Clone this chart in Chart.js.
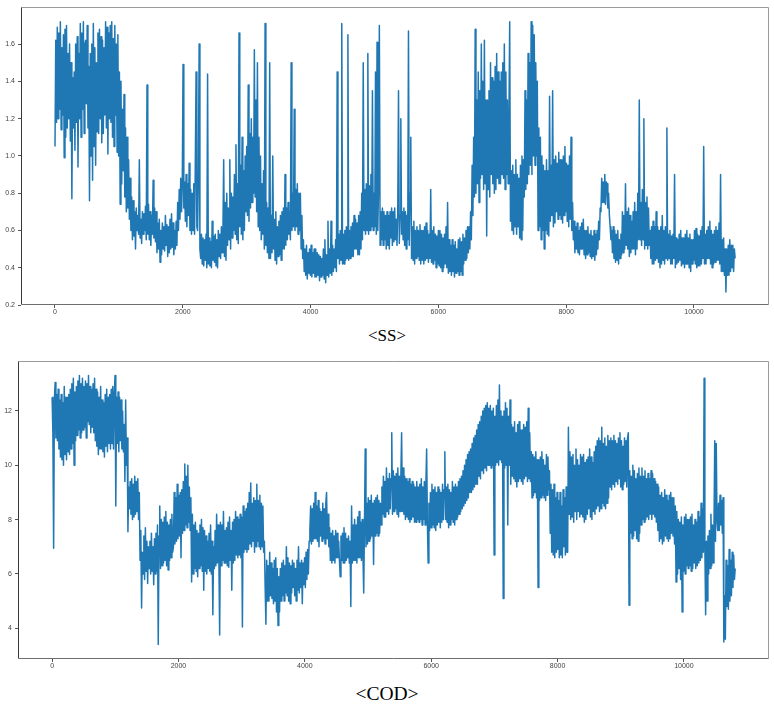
<!DOCTYPE html>
<html>
<head>
<meta charset="utf-8">
<script src="https://cdn.jsdelivr.net/npm/chart.js@4.4.0/dist/chart.umd.min.js"></script>
<style>
    body { margin: 0; background: #fff; }
    #wrap { position: relative; width: 774px; height: 704px; overflow: hidden; }
    .box { position: absolute; left: 0; width: 774px; height: 320px; }
    .ttl {
        position: absolute; left: 0; width: 774px; text-align: center;
        font-family: "Liberation Serif", "Times New Roman", serif; color: #000; line-height: 1;
    }
</style>
</head>
<body>
<div id="wrap">
    <div class="box" style="top:0"><canvas id="ssChart" width="774" height="320"></canvas></div>
    <div class="ttl" style="top:327px; font-size:17px">&lt;SS&gt;</div>
    <div class="box" style="top:354px"><canvas id="codChart" width="774" height="320"></canvas></div>
    <div class="ttl" style="top:684px; font-size:19.5px">&lt;COD&gt;</div>
</div>
<script>
// one value every 12 samples (each row = 240 samples)
const SAMPLE_STEP = 12;

const ssValues = [
    1.05,1.62,1.18,1.69,1.2,1.66,1.25,1.72,1.14,1.58,1.22,1.65,0.99,1.68,1.1,1.7,1.15,1.55,1.2,1.6,
    1.08,1.5,0.77,1.42,1.15,1.45,1.03,1.6,1.18,1.64,0.94,1.55,1.2,1.71,1.1,1.66,1.25,1.72,1.12,1.6,
    1.62,1.28,1.7,1.15,1.48,0.76,1.55,1.0,1.6,0.87,1.71,1.05,1.58,0.95,1.5,1.13,1.66,1.12,1.68,1.2,
    1.64,1.07,1.62,1.12,1.58,1.22,1.72,1.15,1.69,1.01,1.66,1.2,1.7,1.18,1.72,1.1,1.63,1.05,1.7,1.22,
    1.6,1.02,1.65,1.0,1.45,0.74,1.4,0.85,1.25,0.92,1.33,0.78,1.15,0.7,1.1,0.72,0.98,0.66,0.88,0.6,
    0.78,0.55,0.76,0.57,0.7,0.5,0.72,0.6,0.68,0.58,0.98,0.56,0.66,0.53,0.7,0.58,0.69,0.6,0.73,0.55,
    1.38,0.58,0.74,0.55,0.7,0.52,0.68,0.58,0.87,0.56,0.72,0.54,0.7,0.48,0.64,0.5,0.66,0.43,0.6,0.47,
    0.64,0.5,0.62,0.49,0.68,0.52,0.63,0.46,0.62,0.48,0.66,0.5,0.69,0.51,0.64,0.47,0.6,0.5,0.65,0.52,
    0.75,0.6,0.82,0.66,0.88,0.7,0.84,1.49,0.72,0.86,0.65,0.9,0.62,0.85,0.68,0.96,0.6,0.82,0.58,0.8,
    0.6,0.85,0.58,0.95,1.45,0.62,0.6,0.9,1.6,0.5,0.45,0.58,0.42,0.56,0.41,0.55,0.44,0.58,0.4,1.44,
    0.42,0.56,0.41,0.54,0.4,0.65,0.44,0.57,0.43,0.58,0.41,0.55,0.4,0.6,0.46,0.58,0.45,0.62,0.48,0.6,
    0.98,0.46,0.75,0.44,0.8,0.52,0.72,0.55,0.98,0.5,0.8,0.56,0.78,0.6,0.9,0.58,1.06,0.55,0.85,0.53,
    1.66,0.62,0.95,0.58,1.1,0.55,0.92,0.6,1.0,0.7,1.05,0.68,1.38,0.65,1.12,0.72,1.2,0.75,1.1,0.8,
    1.57,0.78,1.3,0.7,1.5,0.62,1.1,0.6,1.0,0.55,0.85,0.58,0.92,0.5,1.71,0.52,0.75,0.48,0.72,0.45,
    1.5,0.45,0.68,0.48,1.0,0.5,0.66,0.44,0.7,0.42,0.62,0.46,0.65,0.47,0.68,0.44,0.7,0.5,0.72,0.5,
    0.9,0.52,0.72,0.55,0.75,0.58,0.7,0.55,1.5,0.6,0.8,0.62,1.25,0.6,0.82,0.62,0.85,0.58,0.8,0.6,
    0.8,0.5,0.68,0.45,0.55,0.38,0.5,0.36,0.52,0.34,0.48,0.37,0.5,0.36,0.52,0.35,0.48,0.37,0.5,0.35,
    0.5,0.35,0.48,0.36,0.47,0.33,0.46,0.35,0.45,0.36,0.5,0.34,0.55,0.32,0.47,0.36,0.65,0.35,0.5,0.37,
    0.65,0.36,0.52,0.38,0.5,0.4,0.55,0.38,1.45,0.45,0.58,0.42,0.6,0.44,1.71,0.42,0.58,0.42,0.6,0.44,
    0.62,0.45,1.65,0.44,0.6,0.45,0.62,0.46,0.64,0.46,0.68,0.5,0.66,0.5,0.64,0.47,0.68,0.47,0.7,0.5,
    0.8,0.55,1.5,0.6,0.82,0.58,0.85,0.6,1.55,0.58,0.84,0.6,0.9,0.62,1.35,0.6,0.8,0.62,1.45,0.58,
    1.61,0.6,0.85,1.7,0.52,0.7,0.55,0.72,0.52,0.7,0.55,0.68,0.5,0.7,0.52,0.68,0.5,0.7,0.56,0.72,
    0.52,0.7,0.54,0.72,0.55,0.66,0.52,0.7,1.35,0.53,0.68,1.2,0.58,0.7,0.55,0.72,0.52,0.7,0.5,0.68,
    0.55,1.67,0.52,0.8,1.1,0.45,0.62,0.44,0.65,0.42,0.6,0.45,0.62,0.46,0.6,0.44,0.63,0.42,0.6,0.44,
    0.6,0.42,0.62,0.44,0.64,0.45,0.6,0.43,0.58,0.45,0.82,0.43,0.6,0.42,0.62,0.44,0.58,0.4,0.57,0.42,
    0.6,0.41,0.6,0.4,0.58,0.38,0.56,0.4,0.58,0.42,0.62,0.4,0.75,0.37,0.55,0.38,0.52,0.36,0.55,0.38,
    0.52,0.35,0.54,0.37,0.5,0.38,0.55,0.36,0.56,0.38,0.54,0.36,0.58,0.42,0.56,0.44,0.6,0.45,0.62,0.48,
    0.62,0.5,0.7,0.55,0.95,0.68,1.1,0.78,1.68,0.8,1.3,0.85,1.45,0.75,1.35,0.88,1.6,0.9,1.4,0.82,
    1.62,0.85,1.3,0.57,1.3,0.82,1.35,0.78,1.5,0.9,1.42,0.85,1.4,0.8,1.48,0.82,1.55,0.88,1.45,0.85,
    1.4,0.85,1.45,0.9,1.5,0.88,1.6,0.82,1.45,0.9,1.3,0.85,1.2,1.72,0.65,0.92,0.6,0.95,0.58,0.9,
    0.62,0.98,0.58,0.9,0.62,0.88,0.56,0.95,0.55,1.0,0.6,0.98,0.78,1.35,0.82,1.3,0.85,1.55,0.9,1.5,
    0.95,1.72,0.9,1.7,1.0,1.65,0.95,1.5,1.0,1.4,0.6,1.15,0.62,1.1,0.55,1.0,0.6,0.95,0.5,0.92,
    0.6,0.98,0.58,0.92,0.57,1.32,0.65,0.95,0.68,1.35,0.62,0.98,0.64,1.0,0.7,0.96,0.66,1.02,0.68,0.98,
    0.66,0.98,0.64,1.0,0.68,1.05,0.7,0.96,0.65,0.95,0.62,1.0,0.66,1.1,0.6,0.75,0.55,0.65,0.48,0.62,
    0.5,0.64,0.48,0.6,0.47,0.62,0.5,0.64,0.5,0.66,0.47,0.6,0.45,0.6,0.47,0.62,0.48,0.58,0.46,0.6,
    0.45,0.57,0.46,0.6,0.44,0.58,0.47,0.6,0.5,0.65,0.55,0.72,0.7,0.88,0.75,0.86,0.75,0.9,0.74,0.86,
    0.85,0.72,0.8,0.68,0.62,0.55,0.6,0.48,0.62,0.45,0.6,0.43,0.58,0.44,0.6,0.42,0.55,0.45,0.58,0.47,
    0.7,0.48,0.68,0.5,0.85,0.52,0.7,0.5,0.72,0.46,0.68,0.48,0.65,0.5,0.7,0.5,0.75,0.47,0.7,0.5,
    0.8,0.55,1.3,0.55,0.75,0.52,0.82,0.55,1.2,0.5,0.75,0.52,0.78,0.5,0.72,0.52,0.6,0.45,0.62,0.42,
    0.65,0.42,0.62,0.44,0.7,0.45,0.62,0.43,0.6,0.4,0.62,0.42,0.68,0.44,0.6,0.42,0.62,0.45,1.15,0.44,
    0.58,0.45,0.6,0.42,0.57,0.42,0.58,0.45,0.9,0.4,0.56,0.42,0.55,0.43,0.58,0.44,0.6,0.41,0.56,0.42,
    0.56,0.4,0.58,0.42,0.6,0.42,0.56,0.4,0.58,0.38,0.55,0.42,0.55,0.44,0.6,0.42,0.61,0.4,0.58,0.41,
    0.57,0.41,0.6,0.42,0.62,0.45,1.05,0.42,0.58,0.42,0.6,0.45,0.62,0.45,0.65,0.42,0.6,0.4,0.58,0.42,
    0.6,0.43,0.62,0.44,0.6,0.44,0.64,0.42,0.9,0.38,0.55,0.38,0.56,0.36,0.5,0.27,0.5,0.36,0.52,0.36,
    0.55,0.38,0.52,0.4,0.52,0.38,0.5,0.45,
];

const codValues = [
    12.5,11.2,6.95,12.4,13.05,11.0,12.6,10.9,12.8,10.6,12.4,10.3,12.6,10.2,12.3,10.0,12.9,10.4,12.5,10.2,
    12.5,10.5,12.6,10.4,12.8,10.6,13.0,10.8,13.2,10.0,12.7,10.9,12.9,11.1,13.1,11.3,13.3,11.0,13.0,11.2,
    13.2,11.3,12.9,11.4,13.1,11.0,13.0,11.6,13.3,11.5,12.9,11.2,12.8,11.4,13.0,11.2,13.2,10.9,12.8,10.7,
    12.7,10.4,12.5,10.6,12.9,10.6,12.4,10.5,12.3,10.3,12.6,10.7,12.8,10.5,12.5,10.8,12.6,10.6,12.8,10.8,
    12.9,10.6,12.6,13.3,8.5,12.5,10.8,12.7,10.5,12.5,10.9,12.4,10.6,12.0,10.5,11.5,9.4,12.4,10.0,11.0,
    7.55,9.2,8.4,9.4,8.2,9.5,8.0,9.3,8.1,9.6,8.2,9.4,8.3,9.5,8.0,9.0,6.5,7.6,4.75,6.8,
    6.0,7.4,5.8,7.7,6.1,7.2,5.65,7.0,6.2,7.2,6.0,7.5,6.1,7.0,5.6,7.3,6.0,7.5,6.1,7.8,
    3.4,7.4,8.5,6.2,8.0,6.3,7.9,6.4,8.1,6.5,8.3,6.3,7.9,6.15,7.8,6.5,8.0,6.6,8.2,6.8,
    7.0,9.0,7.1,8.8,7.2,9.3,7.3,8.9,7.4,9.0,6.6,9.1,7.5,9.4,7.6,10.05,7.8,9.6,7.7,10.0,
    7.9,9.2,7.6,8.8,5.7,8.2,6.0,7.8,6.2,7.9,6.1,7.6,5.9,7.5,6.2,7.8,6.3,8.0,6.1,7.7,
    5.4,7.6,6.1,7.4,6.0,7.2,6.2,7.5,6.1,7.8,6.0,7.2,4.5,7.0,6.2,7.6,6.3,8.2,6.4,7.8,
    6.5,3.75,7.9,6.3,7.8,6.5,8.3,6.4,7.6,6.4,7.7,6.3,7.9,6.25,8.1,6.5,7.6,5.4,7.9,6.4,
    8.0,6.5,8.3,6.7,8.1,6.6,8.0,6.7,8.2,6.6,8.1,4.05,8.5,6.8,8.3,6.9,8.4,6.8,8.6,6.9,
    9.0,7.1,9.35,7.0,8.6,7.2,8.8,6.8,8.7,7.0,9.3,7.2,8.7,7.0,8.9,6.9,8.6,7.0,8.5,6.8,
    7.2,5.5,4.15,6.5,5.0,6.3,5.0,6.8,5.2,6.4,5.1,6.2,4.9,6.5,5.0,6.6,4.6,6.2,4.1,5.9,
    4.6,6.2,5.0,6.4,5.2,6.5,5.0,6.3,5.3,7.0,5.2,6.6,5.0,6.4,4.9,6.3,5.3,6.5,5.5,6.4,
    5.2,6.2,5.0,6.5,5.4,7.0,5.3,6.4,5.5,6.5,4.9,6.4,5.6,6.6,5.5,6.8,5.8,6.9,6.0,7.2,
    7.6,8.5,7.1,8.4,7.2,8.6,7.3,9.0,7.3,8.5,7.2,8.7,7.0,8.4,7.4,8.3,7.2,8.6,7.3,8.4,
    7.1,8.6,9.0,7.3,8.2,7.0,7.7,6.5,7.5,6.4,7.6,6.5,7.4,6.4,7.6,6.6,7.5,6.6,7.2,6.5,
    5.9,7.4,6.5,7.5,6.4,7.7,6.4,7.5,6.5,7.3,6.6,7.4,6.4,7.2,4.8,8.5,6.4,7.8,6.5,8.0,
    6.5,7.8,6.4,8.1,6.6,8.3,6.6,7.9,6.5,8.0,6.7,5.3,7.8,10.6,7.0,8.6,7.1,8.8,7.2,8.7,
    7.3,8.9,7.4,8.6,6.35,8.7,7.4,8.8,7.5,8.9,7.4,8.7,7.5,8.6,7.8,9.2,8.2,9.6,8.1,9.4,
    8.1,9.9,8.3,9.5,8.2,9.7,8.4,9.5,11.2,8.2,9.8,8.3,9.6,8.4,9.7,8.2,9.9,8.1,9.6,8.3,
    9.6,11.2,8.3,9.9,8.2,9.6,8.0,9.5,8.1,9.4,8.0,9.5,7.9,9.3,8.0,9.4,8.1,9.3,7.9,9.2,
    7.9,9.4,8.0,9.2,7.9,9.3,8.0,9.5,7.8,9.2,8.0,9.4,7.8,9.3,10.6,7.9,6.4,8.6,7.6,9.0,
    7.7,9.3,7.8,9.1,7.7,9.2,7.6,9.0,7.8,9.2,7.9,9.1,7.7,9.0,7.9,9.3,8.0,9.1,10.5,8.0,
    9.2,7.9,9.3,7.7,9.1,7.8,9.0,8.0,9.4,7.9,9.2,7.8,9.3,8.0,9.2,8.1,9.4,8.2,9.5,8.3,
    9.6,8.4,9.8,8.5,10.0,8.6,10.2,8.7,10.4,8.8,10.5,9.0,10.6,9.0,10.8,9.1,11.0,9.2,11.1,9.3,
    11.3,9.3,11.5,9.6,11.6,9.5,11.8,9.8,12.0,9.7,12.1,9.9,12.2,9.8,12.3,10.0,12.1,10.0,12.2,9.9,
    12.0,10.0,12.1,6.7,11.8,10.0,12.2,10.1,12.4,10.0,12.95,10.2,12.0,10.1,11.8,5.1,12.0,9.9,12.3,10.0,
    12.1,7.8,11.8,10.0,12.4,9.3,11.5,9.6,11.4,9.5,11.6,9.4,11.2,9.2,11.5,9.4,11.6,9.5,11.3,9.4,
    11.3,9.3,11.5,9.5,11.4,9.6,11.6,9.4,12.1,9.5,11.2,9.4,10.5,8.8,10.4,8.9,10.3,9.0,10.5,8.8,
    10.2,5.5,10.2,8.7,10.3,8.8,10.5,8.9,10.2,8.8,10.0,8.7,10.4,8.9,10.3,9.1,9.8,7.5,9.3,6.8,
    9.1,6.7,9.3,6.6,8.8,6.8,9.0,6.9,8.7,6.6,9.0,6.7,8.5,6.6,9.1,7.0,8.8,6.7,9.2,6.8,
    6.8,11.4,8.2,10.5,8.0,10.3,8.1,10.4,7.9,10.0,8.3,10.6,8.0,10.2,8.3,10.0,8.1,10.4,8.2,10.3,
    8.1,10.4,7.9,10.1,8.0,10.2,8.2,10.3,8.4,10.6,8.1,10.3,8.0,10.1,8.3,10.5,8.2,10.7,8.4,10.9,
    8.5,11.0,8.3,10.9,8.4,11.4,8.6,10.8,8.5,11.0,8.4,10.7,8.6,11.1,8.8,10.9,9.2,11.0,9.1,10.9,
    9.3,11.1,9.2,10.9,9.4,10.8,9.3,11.0,9.5,11.2,9.2,10.9,9.1,10.7,9.3,11.0,9.4,10.9,9.2,11.0,
    11.2,4.85,9.8,7.5,9.6,7.3,10.0,7.4,9.8,7.6,9.5,7.3,9.7,7.2,9.9,7.5,9.6,7.8,9.9,8.0,
    9.6,7.9,9.8,8.0,9.5,8.1,9.7,8.0,9.5,8.2,9.8,8.0,9.7,8.2,9.5,8.1,9.4,7.9,9.3,7.6,
    9.2,7.2,8.9,7.3,9.0,7.1,8.8,7.2,9.1,7.4,8.9,7.3,8.7,7.2,8.9,7.3,9.0,7.5,8.8,7.4,
    8.8,7.1,8.5,5.7,8.3,6.0,8.0,6.2,7.9,5.8,8.1,4.6,7.8,6.1,8.1,6.0,8.2,6.3,8.0,6.2,
    8.0,6.3,8.1,6.1,8.2,6.2,7.8,6.4,8.0,6.2,7.9,6.3,8.3,6.4,8.1,6.5,8.6,6.6,8.4,6.8,
    13.2,7.0,4.5,7.2,5.0,7.4,6.0,7.6,6.2,8.2,6.3,7.8,6.4,7.6,10.9,7.2,10.8,8.0,7.6,8.6,
    7.6,8.9,7.8,8.7,7.5,8.8,3.5,5.2,3.6,6.5,4.8,6.3,4.7,6.9,5.0,6.5,5.2,6.8,5.5,6.7,
    5.8,6.2,
];

const xTicks = [0, 2000, 4000, 6000, 8000, 10000];
const xTickLabels = ["0", "2000", "4000", "6000", "8000", "10000"];
const ssYTicks = [0.2, 0.4, 0.6, 0.8, 1.0, 1.2, 1.4, 1.6];
const ssYTickLabels = ["0.2", "0.4", "0.6", "0.8", "1.0", "1.2", "1.4", "1.6"];
const codYTicks = [4, 6, 8, 10, 12];
const codYTickLabels = ["4", "6", "8", "10", "12"];

const LINE_COLOR = "#1f77b4";
const TICK_FONT = { family: "'Liberation Sans', Arial, sans-serif", size: 7 };

// axes frame like matplotlib: darker left/bottom spines, lighter top/right
const framePlugin = {
    id: "frame",
    afterDraw(chart) {
        const { ctx, chartArea: a } = chart;
        const l = Math.round(a.left) + 0.5, r = Math.round(a.right) - 0.5;
        const t = Math.round(a.top) + 0.5, b = Math.round(a.bottom) - 0.5;
        ctx.save();
        ctx.lineWidth = 1;
        ctx.strokeStyle = "#9a9a9a";
        ctx.beginPath();
        ctx.moveTo(l, t); ctx.lineTo(r, t); ctx.lineTo(r, b);
        ctx.stroke();
        ctx.strokeStyle = "#3a3a3a";
        ctx.beginPath();
        ctx.moveTo(l, t); ctx.lineTo(l, b);
        ctx.stroke();
        ctx.strokeStyle = "#6e6e6e";
        ctx.beginPath();
        ctx.moveTo(l, b); ctx.lineTo(r, b);
        ctx.stroke();
        ctx.restore();
    },
};

function makeChart(canvasId, values, opts) {
    const points = values.map((v, i) => ({ x: i * SAMPLE_STEP, y: v }));
    return new Chart(document.getElementById(canvasId), {
        type: "line",
        data: {
            datasets: [{
                data: points,
                borderColor: LINE_COLOR,
                borderWidth: 1.5,
                borderJoinStyle: "round",
                pointRadius: 0,
                tension: 0,
                fill: false,
            }],
        },
        options: {
            responsive: false,
            animation: false,
            events: [],
            layout: { padding: { top: opts.padTop, right: opts.padRight, left: 0, bottom: 0 } },
            plugins: { legend: { display: false }, tooltip: { enabled: false }, title: { display: false } },
            scales: {
                x: {
                    type: "linear",
                    min: opts.xMin,
                    max: opts.xMax,
                    afterBuildTicks: s => { s.ticks = xTicks.map(v => ({ value: v })); },
                    afterFit: s => { s.height = opts.xAxisHeight; },
                    ticks: {
                        font: TICK_FONT, color: "#444", padding: 0, maxRotation: 0, autoSkip: false,
                        callback: (v) => xTickLabels[xTicks.indexOf(v)],
                    },
                    grid: { display: true, drawOnChartArea: false, tickLength: 3, color: "#555" },
                    border: { display: false },
                },
                y: {
                    type: "linear",
                    min: opts.yMin,
                    max: opts.yMax,
                    afterBuildTicks: s => { s.ticks = opts.yTicks.map(v => ({ value: v })); },
                    afterFit: s => { s.width = opts.yAxisWidth; },
                    ticks: {
                        font: TICK_FONT, color: "#444", padding: 3, autoSkip: false,
                        callback: (v) => opts.yTickLabels[opts.yTicks.indexOf(v)],
                    },
                    grid: { display: true, drawOnChartArea: false, tickLength: 3, color: "#555" },
                    border: { display: false },
                },
            },
        },
        plugins: [framePlugin],
    });
}

makeChart("ssChart", ssValues, {
    xMin: -532, xMax: 11174,
    yMin: 0.2, yMax: 1.798,
    yTicks: ssYTicks, yTickLabels: ssYTickLabels,
    padTop: 5, padRight: 5, xAxisHeight: 15, yAxisWidth: 21,
});

makeChart("codChart", codValues, {
    xMin: -540, xMax: 11347,
    yMin: 2.87, yMax: 13.83,
    yTicks: codYTicks, yTickLabels: codYTickLabels,
    padTop: 5, padRight: 5, xAxisHeight: 15, yAxisWidth: 18,
});
</script>
</body>
</html>
